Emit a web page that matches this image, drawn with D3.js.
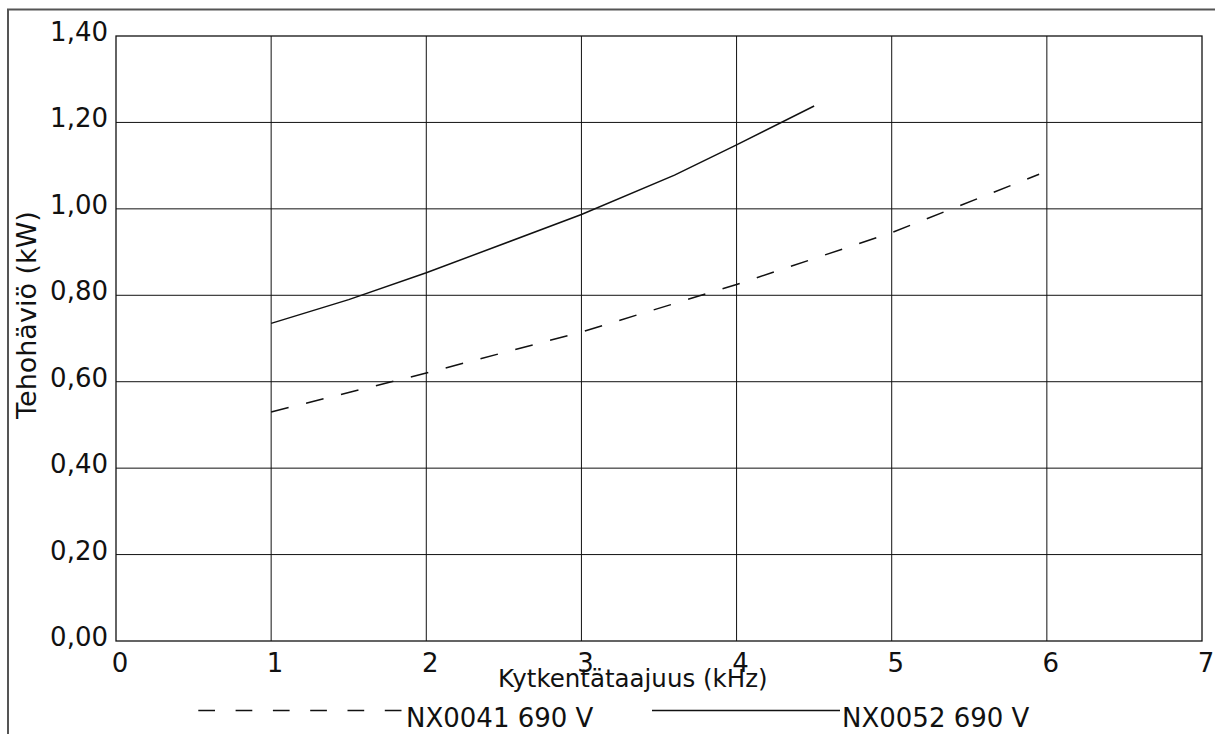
<!DOCTYPE html>
<html>
<head>
<meta charset="utf-8">
<script src="https://cdn.jsdelivr.net/npm/d3@7"></script>
<style>
  body { margin: 0; background: #fff; }
  svg { display: block; font-family: "DejaVu Sans", Verdana, sans-serif; }
</style>
</head>
<body>
<svg id="chart"></svg>
<script>
// kHz on x, kW on y
var xTicks = [0, 1, 2, 3, 4, 5, 6, 7];
var yTicks = [0, 0.2, 0.4, 0.6, 0.8, 1.0, 1.2, 1.4];
var seriesNames = ["NX0041 690 V", "NX0052 690 V"];
var nx0041 = [[1, 0.53], [1.5, 0.575], [2, 0.62], [3, 0.715], [4, 0.825], [5, 0.945], [5.95, 1.08]];
var nx0052 = [[1, 0.735], [1.5, 0.79], [2, 0.852], [3, 0.987], [3.6, 1.078], [4, 1.148], [4.5, 1.238]];

var width = 1215, height = 734;
var margin = { left: 116, right: 13, top: 36, bottom: 93 };

var svg = d3.select('#chart')
    .attr('width', width)
    .attr('height', height);

// outer frame (top + left only)
svg.append('path')
    .attr('d', 'M8,734 L8,9.5 L1215,9.5')
    .attr('fill', 'none')
    .attr('stroke', '#555')
    .attr('stroke-width', 2);

var x = d3.scaleLinear().domain([0, 7]).range([margin.left, width - margin.right]);
var y = d3.scaleLinear().domain([0, 1.4]).range([height - margin.bottom, margin.top]);

// grid
svg.append('g')
    .selectAll('line')
    .data(xTicks.slice(1, -1))
    .enter()
    .append('line')
    .attr('x1', d => x(d)).attr('x2', d => x(d))
    .attr('y1', y(0)).attr('y2', y(1.4))
    .attr('stroke', '#111')
    .attr('stroke-width', 1);

svg.append('g')
    .selectAll('line')
    .data(yTicks.slice(1, -1))
    .enter()
    .append('line')
    .attr('x1', x(0)).attr('x2', x(7))
    .attr('y1', d => y(d)).attr('y2', d => y(d))
    .attr('stroke', '#111')
    .attr('stroke-width', 1);

// plot border
svg.append('rect')
    .attr('x', x(0)).attr('y', y(1.4))
    .attr('width', x(7) - x(0))
    .attr('height', y(0) - y(1.4))
    .attr('fill', 'none')
    .attr('stroke', '#111')
    .attr('stroke-width', 1.3);

// tick labels
var fmt = d => d3.format('.2f')(d).replace('.', ',');

svg.append('g')
    .selectAll('text')
    .data(yTicks)
    .enter()
    .append('text')
    .attr('x', x(0) - 8)
    .attr('y', d => y(d) + 5)
    .attr('text-anchor', 'end')
    .attr('font-size', 26)
    .attr('fill', '#111')
    .text(fmt);

svg.append('g')
    .selectAll('text')
    .data(xTicks)
    .enter()
    .append('text')
    .attr('x', d => x(d) + 4)
    .attr('y', 672)
    .attr('text-anchor', 'middle')
    .attr('font-size', 26)
    .attr('fill', '#111')
    .text(d => d);

// axis titles
svg.append('text')
    .attr('x', 498)
    .attr('y', 687)
    .attr('font-size', 24.5)
    .attr('fill', '#111')
    .text('Kytkentätaajuus (kHz)');

svg.append('text')
    .attr('transform', 'translate(36,315) rotate(-90)')
    .attr('text-anchor', 'middle')
    .attr('font-size', 27)
    .attr('fill', '#111')
    .text('Tehohäviö (kW)');

// lines
var line = d3.line().x(d => x(d[0])).y(d => y(d[1]));

svg.append('path')
    .datum(nx0041)
    .attr('d', line)
    .attr('fill', 'none')
    .attr('stroke', '#111')
    .attr('stroke-width', 1.5)
    .attr('stroke-dasharray', '18,18');

svg.append('path')
    .datum(nx0052)
    .attr('d', line)
    .attr('fill', 'none')
    .attr('stroke', '#111')
    .attr('stroke-width', 1.5);

// legend
var legend = [
    { name: seriesNames[0], x1: 198.3, x2: 402, dash: '16.7,20.6' },
    { name: seriesNames[1], x1: 652, x2: 840, dash: null }
];

var lg = svg.append('g')
    .selectAll('g')
    .data(legend)
    .enter()
    .append('g');

lg.append('line')
    .attr('x1', d => d.x1).attr('x2', d => d.x2)
    .attr('y1', 710.5).attr('y2', 710.5)
    .attr('stroke', '#111')
    .attr('stroke-width', 1.5)
    .attr('stroke-dasharray', d => d.dash);

lg.append('text')
    .attr('x', (d, i) => i === 0 ? 406 : 842)
    .attr('y', 727)
    .attr('font-size', 26)
    .attr('fill', '#111')
    .text(d => d.name);
</script>
</body>
</html>
